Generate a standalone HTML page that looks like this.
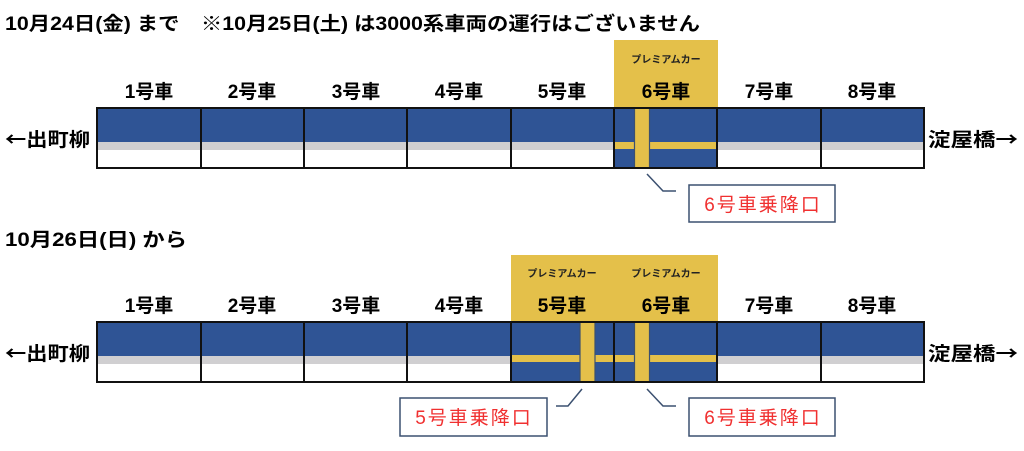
<!DOCTYPE html>
<html><head><meta charset="utf-8"><style>
html,body{margin:0;padding:0;background:#fff;}
svg{display:block;}
text{font-family:"Liberation Sans","Noto Sans CJK JP",sans-serif;}
.t{font-weight:bold;font-size:19px;fill:#000;}
.a{font-family:"Noto Sans CJK JP",sans-serif;}
.c{font-weight:bold;font-size:19px;fill:#000;text-anchor:middle;}
.p{font-size:10px;fill:#222;text-anchor:middle;font-weight:bold;}
.r{font-size:19px;fill:#f03030;text-anchor:middle;letter-spacing:2px;}
</style></head><body>
<svg width="1024" height="451" viewBox="0 0 1024 451" xmlns="http://www.w3.org/2000/svg">
<text class="t" x="5" y="30" textLength="695" lengthAdjust="spacingAndGlyphs">10月24日(金) まで　※10月25日(土) は3000系車両の運行はございません</text>
<text class="t" x="5" y="246" textLength="182" lengthAdjust="spacingAndGlyphs">10月26日(日) から</text>

<!-- Train 1 -->
<rect x="614" y="40" width="104" height="68" fill="#e4c04a"/>
<text class="p" x="666" y="63">プレミアムカー</text>
<g>
<rect x="97" y="108" width="827" height="60" fill="#fff"/>
<rect x="97" y="108" width="827" height="34" fill="#2f5495"/>
<rect x="97" y="142" width="827" height="8" fill="#d0cfd1"/>
<rect x="614" y="108" width="104" height="60" fill="#2f5495"/>
<rect x="614" y="142" width="104" height="7" fill="#e4c04a"/>
<rect x="634.5" y="108" width="15" height="60" fill="#e4c04a" stroke="#3b5070" stroke-width="1.2"/>
<rect x="97" y="108" width="827" height="60" fill="none" stroke="#111" stroke-width="2"/>
<path d="M201 108V168M304 108V168M407 108V168M511 108V168M614 108V168M717 108V168M821 108V168" stroke="#111" stroke-width="2"/>
</g>
<text class="c" x="149" y="98">1号車</text><text class="c" x="252" y="98">2号車</text><text class="c" x="356" y="98">3号車</text><text class="c" x="459" y="98">4号車</text><text class="c" x="562" y="98">5号車</text><text class="c" x="666" y="98">6号車</text><text class="c" x="769" y="98">7号車</text><text class="c" x="872" y="98">8号車</text>
<text class="t" x="5" y="146" textLength="85" lengthAdjust="spacingAndGlyphs"><tspan class="a">←</tspan>出町柳</text>
<text class="t" x="928" y="146" textLength="90" lengthAdjust="spacingAndGlyphs">淀屋橋<tspan class="a">→</tspan></text>
<path d="M647 174L663 191H676" fill="none" stroke="#3b5070" stroke-width="1.5"/>
<rect x="689" y="185" width="146" height="37" fill="#fff" stroke="#3b5070" stroke-width="1.5"/>
<text class="r" x="763" y="211">6号車乗降口</text>

<!-- Train 2 -->
<rect x="511" y="255" width="207" height="67" fill="#e4c04a"/>
<text class="p" x="562" y="277">プレミアムカー</text>
<text class="p" x="666" y="277">プレミアムカー</text>
<g>
<rect x="97" y="322" width="827" height="60" fill="#fff"/>
<rect x="97" y="322" width="827" height="34" fill="#2f5495"/>
<rect x="97" y="356" width="827" height="8" fill="#d0cfd1"/>
<rect x="511" y="322" width="207" height="60" fill="#2f5495"/>
<rect x="511" y="355" width="207" height="7" fill="#e4c04a"/>
<rect x="580" y="322" width="15" height="60" fill="#e4c04a" stroke="#3b5070" stroke-width="1.2"/>
<rect x="634.5" y="322" width="15" height="60" fill="#e4c04a" stroke="#3b5070" stroke-width="1.2"/>
<rect x="97" y="322" width="827" height="60" fill="none" stroke="#111" stroke-width="2"/>
<path d="M201 322V382M304 322V382M407 322V382M511 322V382M614 322V382M717 322V382M821 322V382" stroke="#111" stroke-width="2"/>
</g>
<text class="c" x="149" y="312">1号車</text><text class="c" x="252" y="312">2号車</text><text class="c" x="356" y="312">3号車</text><text class="c" x="459" y="312">4号車</text><text class="c" x="562" y="312">5号車</text><text class="c" x="666" y="312">6号車</text><text class="c" x="769" y="312">7号車</text><text class="c" x="872" y="312">8号車</text>
<text class="t" x="5" y="360" textLength="85" lengthAdjust="spacingAndGlyphs"><tspan class="a">←</tspan>出町柳</text>
<text class="t" x="928" y="360" textLength="90" lengthAdjust="spacingAndGlyphs">淀屋橋<tspan class="a">→</tspan></text>
<path d="M582 389L568 406H556" fill="none" stroke="#3b5070" stroke-width="1.5"/>
<rect x="400" y="398" width="147" height="38" fill="#fff" stroke="#3b5070" stroke-width="1.5"/>
<text class="r" x="474" y="424">5号車乗降口</text>
<path d="M647 389L663 406H676" fill="none" stroke="#3b5070" stroke-width="1.5"/>
<rect x="689" y="398" width="146" height="38" fill="#fff" stroke="#3b5070" stroke-width="1.5"/>
<text class="r" x="763" y="424">6号車乗降口</text>
</svg>
</body></html>
